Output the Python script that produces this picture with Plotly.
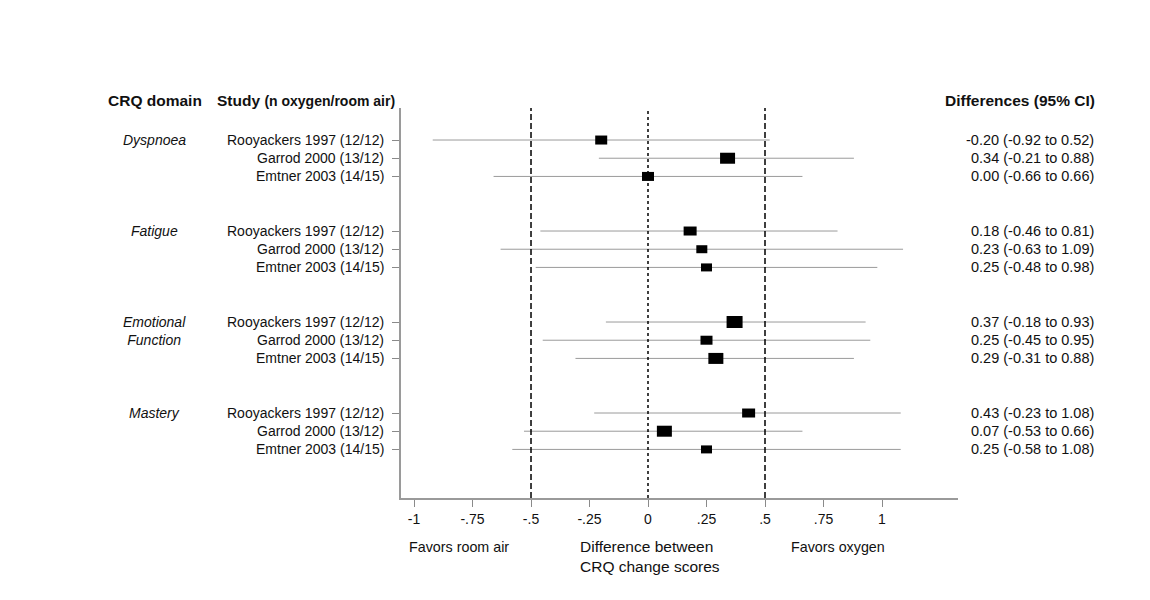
import plotly.graph_objects as go

# CRQ domains and the studies inside each
domains = ["Dyspnoea", "Fatigue", "Emotional<br>Function", "Mastery"]
studies = ["Rooyackers 1997 (12/12)", "Garrod 2000 (13/12)", "Emtner 2003 (14/15)"]

# differences with 95% CI, one row per study, grouped by domain
est = [-0.20, 0.34, 0.00,
       0.18, 0.23, 0.25,
       0.37, 0.25, 0.29,
       0.43, 0.07, 0.25]
lo = [-0.92, -0.21, -0.66,
      -0.46, -0.63, -0.48,
      -0.18, -0.45, -0.31,
      -0.23, -0.53, -0.58]
hi = [0.52, 0.88, 0.66,
      0.81, 1.09, 0.98,
      0.93, 0.95, 0.88,
      1.08, 0.66, 1.08]
# relative study weights (box size)
weight = [12, 15, 12,
          13, 11, 11,
          16, 12, 15,
          13, 15, 11]

tick_vals = [-1, -0.75, -0.5, -0.25, 0, 0.25, 0.5, 0.75, 1]
tick_text = ["-1", "-.75", "-.5", "-.25", "0", ".25", ".5", ".75", "1"]

FONT = "Liberation Sans, Arial, Helvetica, sans-serif"
TXT = "#111111"

# row positions: 3 studies per domain, 2 empty rows between domains
rows = []
for g in range(len(domains)):
    for s in range(len(studies)):
        rows.append(g * 5 + s)

fig = go.Figure()

# confidence intervals
fig.add_trace(go.Scatter(
    x=est, y=rows, mode="markers",
    marker=dict(size=1, color="rgba(0,0,0,0)"),
    error_x=dict(type="data", symmetric=False,
                 array=[h - e for h, e in zip(hi, est)],
                 arrayminus=[e - l for e, l in zip(est, lo)],
                 width=0, thickness=1, color="#9a9a9a"),
    hoverinfo="skip", showlegend=False,
))

# reference lines
fig.add_vline(x=-0.5, line=dict(color="black", width=1.5, dash="6px,3px"))
fig.add_vline(x=0.5, line=dict(color="black", width=1.5, dash="6px,3px"))
fig.add_vline(x=0, line=dict(color="black", width=1.5, dash="dot"))

# weighted boxes
for e, r, w in zip(est, rows, weight):
    h = round(w * 0.72)
    fig.add_shape(type="rect", xref="x", yref="y",
                  xsizemode="pixel", xanchor=e, x0=-w / 2, x1=w / 2,
                  ysizemode="pixel", yanchor=r, y0=-h / 2, y1=h / 2,
                  fillcolor="black", line=dict(width=0))


def note(x, y, text, xanchor="left", yref="paper", size=14, **kw):
    return dict(x=x, y=y, xref="paper", yref=yref, xanchor=xanchor, yanchor="middle",
                text=text, showarrow=False, font=dict(size=size), **kw)


ann = []
# headers
ann.append(note(-0.530, 1.018, "<b>CRQ domain</b>", size=15.5))
ann.append(note(-0.334, 1.018,
                "<b>Study <span style='font-size:14px'>(n oxygen/room air)</span></b>", size=15.5))
ann.append(note(1.250, 1.018, "<b>Differences (95% CI)</b>", xanchor="right", size=15.5))

# domain labels
for g, d in enumerate(domains):
    nlines = d.count("<br>") + 1
    ann.append(note(-0.4417, g * 5 + (nlines - 1) / 2, "<i>" + d + "</i>",
                    xanchor="center", yref="y"))

# study labels and difference text
for i, r in enumerate(rows):
    ann.append(note(-0.027, r, studies[i % 3], xanchor="right", yref="y"))
    txt = "%.2f (%.2f to %.2f)" % (est[i], lo[i], hi[i])
    ann.append(note(1.248, r, txt, xanchor="right", yref="y", size=14.5))

# bottom annotations
ann.append(note(0.0105, -0.126, "Favors room air", size=14.3))
ann.append(note(0.3175, -0.149, "Difference between<br>CRQ change scores", size=15.5, align="left"))
ann.append(note(0.697, -0.126, "Favors oxygen", size=14.3))

fig.update_layout(
    width=1150, height=600,
    margin=dict(l=393, r=200, t=100, b=110),
    paper_bgcolor="white", plot_bgcolor="white",
    font=dict(family=FONT, color=TXT, size=14),
    annotations=ann,
    showlegend=False,
)
fig.update_xaxes(range=[-1.0556, 1.3248], tickvals=tick_vals, ticktext=tick_text,
                 ticks="outside", ticklen=7, tickcolor="#8a8a8a", tickwidth=1,
                 showline=True, linecolor="#9a9a9a", linewidth=1.5,
                 showgrid=False, zeroline=False, tickfont=dict(size=14))
fig.update_yaxes(range=[19.67, -1.76], tickvals=rows, ticktext=[""] * len(rows),
                 ticks="outside", ticklen=7, tickcolor="#8a8a8a", tickwidth=1,
                 showline=True, linecolor="#9a9a9a", linewidth=1.5,
                 showgrid=False, zeroline=False)

fig.write_html("out.html")
